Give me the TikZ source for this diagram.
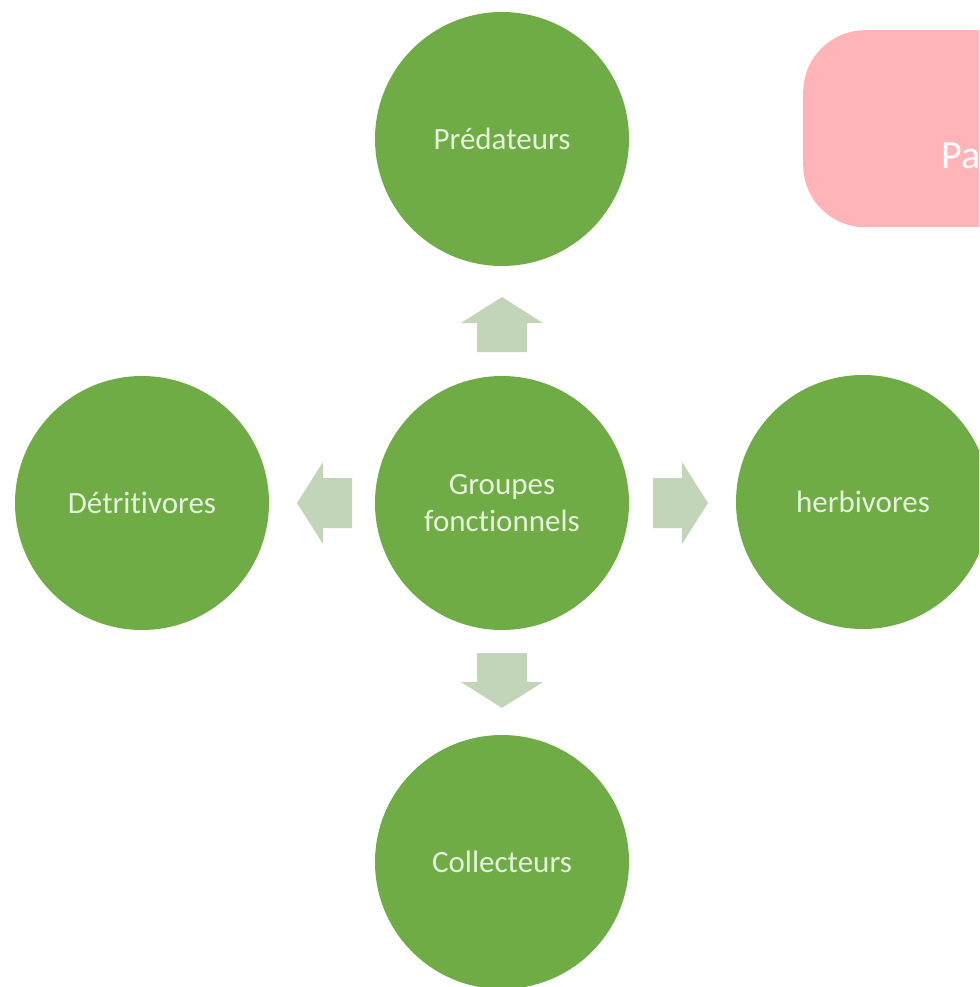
\documentclass[tikz,border=0pt]{standalone}
\usepackage{fontspec}
\setmainfont[Ligatures={NoCommon}]{Carlito}
\definecolor{circgreen}{HTML}{6FAC46}
\definecolor{arrowfill}{HTML}{C2D5B8}
\definecolor{txtgreen}{HTML}{E6F2DD}
\definecolor{pinkbox}{HTML}{FFB4B7}
\begin{document}
\begin{tikzpicture}[x=1pt,y=-1pt,
  groupnode/.style={circle,fill=circgreen,draw=none,minimum size=254pt,inner sep=0pt,
    text=txtgreen,font=\fontsize{31}{37}\selectfont,align=center},
  blockarr/.style={fill=arrowfill,draw=none}]
\useasboundingbox (0,0) rectangle (979,987);
\clip (0,0) rectangle (979,987);
% pink box (cut off at the right edge)
\node[fill=pinkbox,rounded corners=62pt,minimum width=320pt,minimum height=197pt,anchor=north west,inner sep=0pt] (pink) at (803,30) {};
\node[anchor=base west,text=white,font=\fontsize{40}{48}\selectfont,inner sep=0pt] (pinktxt) at (941,169) {Pa};
% circles
\node[groupnode] (center) at (502,503) {Groupes\\fonctionnels};
\node[groupnode] (top) at (502,139) {Prédateurs};
\node[groupnode] (left) at (142,503) {Détritivores};
\node[groupnode] (right) at (863,502) {herbivores};
\node[groupnode] (bottom) at (502,862) {Collecteurs};
% block arrows
\fill[blockarr] (477,352) -- (477,323) -- (461,323) -- (502,297) -- (543,323) -- (527,323) -- (527,352) -- cycle;
\fill[blockarr] (477,653) -- (477,682) -- (461,682) -- (502,708) -- (543,682) -- (527,682) -- (527,653) -- cycle;
\fill[blockarr] (352,478) -- (323,478) -- (323,462) -- (297,503) -- (323,544) -- (323,528) -- (352,528) -- cycle;
\fill[blockarr] (653,478) -- (682,478) -- (682,462) -- (708,503) -- (682,544) -- (682,528) -- (653,528) -- cycle;
\end{tikzpicture}
\end{document}
